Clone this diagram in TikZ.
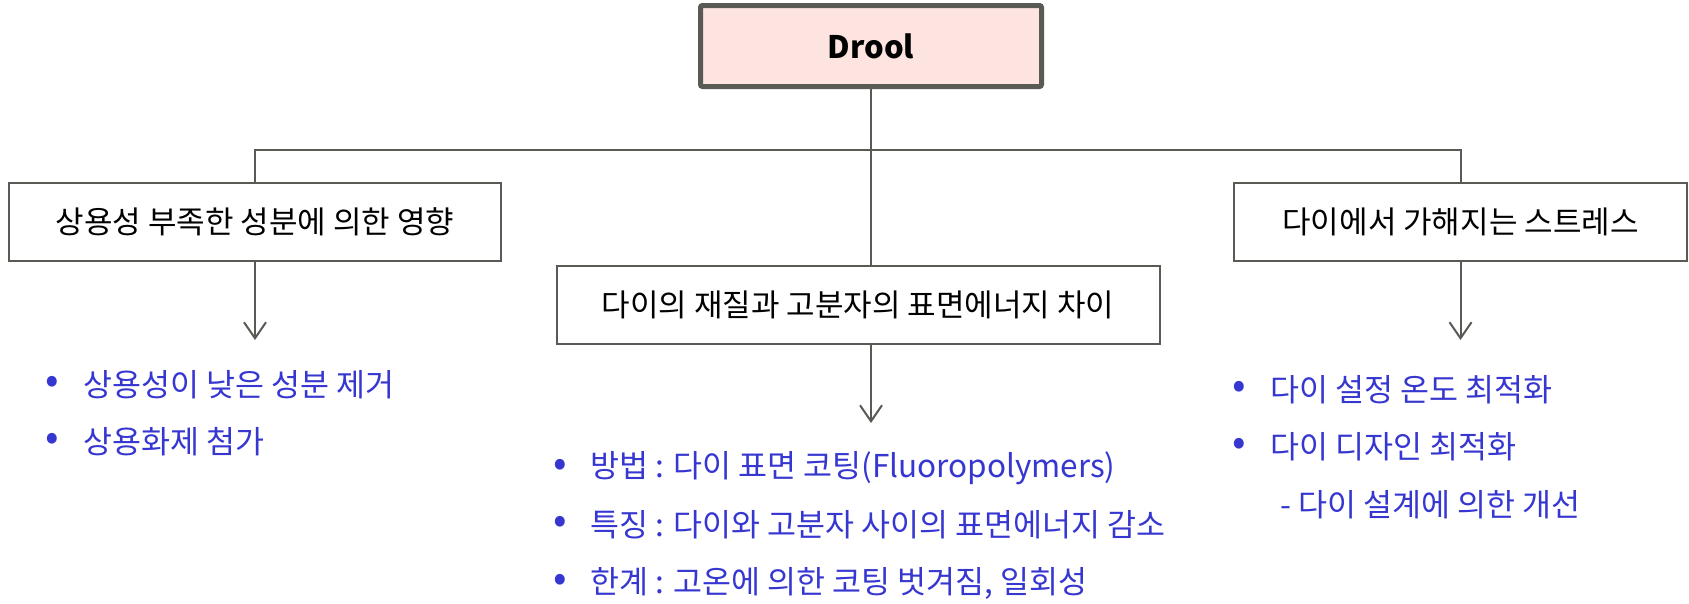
\documentclass[tikz,border=0pt]{standalone}
\usepackage{fontspec}
\setmainfont{Noto Sans CJK KR}
\usetikzlibrary{arrows.meta}
\definecolor{linegray}{HTML}{5A5A55}
\definecolor{bluetext}{HTML}{3636D0}
\definecolor{pinkfill}{HTML}{FEE4E0}
\begin{document}
\begin{tikzpicture}[x=1pt,y=-1pt,
  topbox/.style={draw=linegray, line width=5pt, fill=pinkfill, rounded corners=2pt,
    minimum width=341pt, minimum height=81pt, inner sep=0pt,
    font=\fontsize{31}{37}\selectfont\bfseries},
  subbox/.style={draw=linegray, line width=2pt, fill=white, minimum height=78pt,
    inner sep=0pt, font=\fontsize{31}{37}\selectfont},
  link/.style={draw=linegray, line width=2pt},
  arr/.style={link, -{Straight Barb[length=16pt, width=22pt, line width=2pt]}},
  item/.style={anchor=west, text=bluetext, inner sep=0pt, font=\fontsize{31.5}{37}\selectfont},
  bul/.style={anchor=center, text=bluetext, inner sep=0pt, font=\fontsize{40}{44}\selectfont},
]
\useasboundingbox (0,0) rectangle (1689,603);

% boxes
\node[topbox] (drool) at (871,46) {Drool};
\node[subbox, minimum width=492pt] (left) at (255,222) {상용성 부족한 성분에 의한 영향};
\node[subbox, minimum width=603pt] (mid) at (858,305) {다이의 재질과 고분자의 표면에너지 차이};
\node[subbox, minimum width=453pt] (right) at (1460.5,222) {다이에서 가해지는 스트레스};

% tree connectors
\coordinate (jl) at (255,150);
\coordinate (jm) at (871,150);
\coordinate (jr) at (1460.5,150);
\draw[link] (drool.south) -- (jm);
\draw[link] (left.north) -- (jl) -- (jr) -- (right.north);
\draw[link] (jm) -- (jm |- mid.north);

% arrows to the lists
\coordinate (tl) at (255,340);
\coordinate (tm) at (871,423);
\coordinate (tr) at (1460.5,340);
\draw[arr] (left.south) -- (tl);
\draw[arr] (jm |- mid.south) -- (tm);
\draw[arr] (right.south) -- (tr);

% left list
\node[bul] (lb1) at (52,385) {•};
\node[item] (l1) at (83,385) {상용성이 낮은 성분 제거};
\node[bul] (lb2) at (52,442) {•};
\node[item] (l2) at (83,442) {상용화제 첨가};

% middle list
\node[bul] (mb1) at (560,468) {•};
\node[item] (m1) at (590,468) {방법 : 다이 표면 코팅(Fluoropolymers)};
\node[bul] (mb2) at (560,525) {•};
\node[item] (m2) at (590,525) {특징 : 다이와 고분자 사이의 표면에너지 감소};
\node[bul] (mb3) at (560,583) {•};
\node[item] (m3) at (590,583) {한계 : 고온에 의한 코팅 벗겨짐, 일회성};

% right list
\node[bul] (rb1) at (1239,390) {•};
\node[item] (r1) at (1270,390) {다이 설정 온도 최적화};
\node[bul] (rb2) at (1239,447) {•};
\node[item] (r2) at (1270,447) {다이 디자인 최적화};
\node[item] (r3) at (1280,505) {- 다이 설계에 의한 개선};
\end{tikzpicture}
\end{document}
